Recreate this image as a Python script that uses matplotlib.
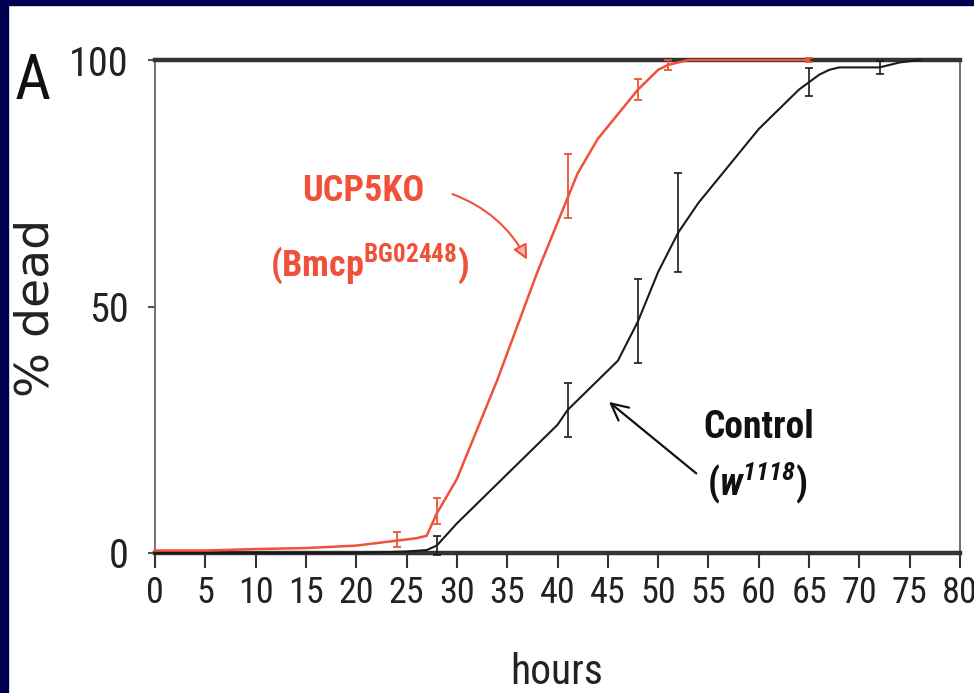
import matplotlib
matplotlib.use("Agg")
from matplotlib import pyplot as plt, font_manager
from matplotlib.patches import Rectangle

# survival data (hours, % dead)
koHours = [0, 5, 10, 15, 20, 24, 26, 27, 28, 30, 32, 34, 36, 38, 40, 41, 42, 44, 46, 48, 50, 51, 53, 55, 60, 65]
koDead = [0.5, 0.5, 0.8, 1, 1.5, 2.5, 3, 3.5, 8, 15, 25, 35, 46, 57, 67, 72, 77, 84, 89, 94, 98, 99, 100, 100, 100, 100]
koErrHours = [24, 28, 41, 48, 51, 65]
koErrDead = [2.7, 8.5, 74.5, 94, 99, 100]
koErr = [1.5, 2.7, 6.5, 2.2, 1, 0.5]

ctlHours = [0, 10, 20, 25, 27, 28, 30, 32, 34, 36, 38, 40, 41, 42, 44, 46, 47, 48, 49, 50, 52, 54, 56, 58, 60,
            62, 64, 65, 66, 67, 68, 70, 72, 74, 76]
ctlDead = [0, 0, 0, 0.3, 0.6, 1.5, 6, 10, 14, 18, 22, 26, 29, 31, 35, 39, 43, 47, 52, 57, 65, 71, 76, 81, 86,
           90, 94, 95.5, 97, 98, 98.5, 98.5, 98.5, 99.5, 100]
ctlErrHours = [28, 41, 48, 52, 65, 72]
ctlErrDead = [1.5, 29, 47, 67, 95.5, 98.5]
ctlErr = [2, 5.5, 8.5, 10, 2.8, 1.3]

xTicks = list(range(0, 81, 5))
yTicks = [0, 50, 100]


def pickFont(names):
    """return the first installed family from names"""
    for n in names:
        try:
            font_manager.findfont(n, fallback_to_default=False)
            return n
        except ValueError:
            pass
    return "DejaVu Sans"


narrow = pickFont(["Liberation Sans Narrow", "Roboto Condensed", "Liberation Sans"])
plt.rcParams["mathtext.fontset"] = "custom"
plt.rcParams["mathtext.rm"] = narrow
plt.rcParams["mathtext.bf"] = narrow + ":bold"
plt.rcParams["mathtext.it"] = narrow + ":italic"
try:
    plt.rcParams["mathtext.bfit"] = narrow + ":italic:bold"
except KeyError:
    pass

red = "#ef5238"
navy = "#000050"
ink = "#222222"

fig = plt.figure(figsize=(9.74, 6.93), dpi=100)
fig.patch.set_facecolor("white")
# navy slide border
fig.patches.append(Rectangle((0, 1 - 5 / 693), 1, 5 / 693, transform=fig.transFigure, color=navy, zorder=0))
fig.patches.append(Rectangle((0, 0), 8 / 974, 1, transform=fig.transFigure, color=navy, zorder=0))

ax = fig.add_axes([155 / 974, 140 / 693, 805 / 974, 493 / 693])

# curves
ax.plot(ctlHours, ctlDead, color="#1a1a1a", lw=1.5, zorder=3, clip_on=False)
ax.plot(koHours, koDead, color=red, lw=1.8, zorder=4, clip_on=False)
ax.errorbar(ctlErrHours, ctlErrDead, yerr=ctlErr, fmt="none", ecolor="#1a1a1a", elinewidth=1.2,
            capsize=3, capthick=1.2, zorder=3, clip_on=False)
ax.errorbar(koErrHours, koErrDead, yerr=koErr, fmt="none", ecolor=red, elinewidth=1.3,
            capsize=3, capthick=1.3, zorder=4, clip_on=False)

ax.set_xlim(0, 80)
ax.set_ylim(0, 100)
ax.set_xticks(xTicks)
ax.set_yticks(yTicks)
ax.set_xticklabels([str(t) for t in xTicks], fontfamily=narrow, fontsize=26, color=ink)
ax.set_yticklabels([str(t) for t in yTicks], fontfamily=narrow, fontsize=29, color=ink)
ax.tick_params(axis="x", direction="out", length=11, width=1.5, pad=5, color="#333333")
ax.tick_params(axis="y", direction="out", length=5, width=1.5, pad=14, color="#555555")

for side in ["top", "bottom"]:
    ax.spines[side].set_linewidth(3.2)
    ax.spines[side].set_color("#333333")
for side in ["left", "right"]:
    ax.spines[side].set_linewidth(1.3)
    ax.spines[side].set_color("#666666")

# axis labels
fig.text(36 / 974, 1 - 308 / 693, "% dead", rotation=90, ha="center", va="center",
         fontfamily="DejaVu Sans", fontsize=34, color=ink)
fig.text(557 / 974, 1 - 684 / 693, "hours", ha="center", va="baseline",
         fontfamily=narrow, fontsize=30, color=ink)
fig.text(33 / 974, 1 - 99 / 693, "A", ha="center", va="baseline",
         fontfamily=narrow, fontsize=45, color="#111111")

# curve labels and arrows
ax.text(20.7, 73.4, "UCP5KO", ha="center", va="center", fontfamily=narrow,
        fontweight="bold", fontsize=26, color=red)
ax.text(21.3, 58.5, r"(Bmcp$^{\mathbf{BG02448}}$)", ha="center", va="center", fontfamily=narrow,
        fontweight="bold", fontsize=26, color=red)
ax.annotate("", xy=(37.1, 59.0), xytext=(29.3, 73.0),
            arrowprops=dict(arrowstyle="-|>", color=red, lw=1.5, mutation_scale=22,
                            fc="#f7b3a8", connectionstyle="arc3,rad=-0.2"))

ax.text(60.0, 25.4, "Control", ha="center", va="center", fontfamily=narrow,
        fontweight="bold", fontsize=27, color="#111111")
ax.text(59.8, 14.2, r"($\mathbfit{w}^{\mathbfit{1118}}$)", ha="center", va="center", fontfamily=narrow,
        fontweight="bold", fontsize=27, color="#111111")
ax.annotate("", xy=(44.9, 31.0), xytext=(54.0, 15.8),
            arrowprops=dict(arrowstyle="->", color="#111111", lw=1.6, mutation_scale=30))

fig.savefig("out.png", dpi=100, facecolor=fig.get_facecolor())
